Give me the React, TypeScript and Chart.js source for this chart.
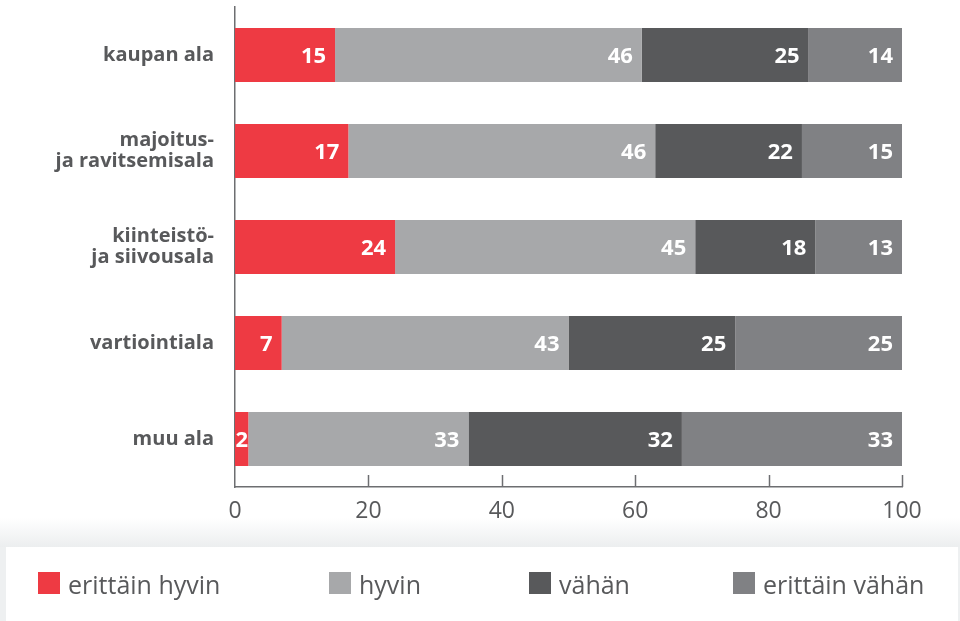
import { useEffect, useRef } from "react";
import { Chart, registerables } from "chart.js";
Chart.register(...registerables);

const categories: string[][] = [
  ["kaupan ala"],
  ["majoitus-", "ja ravitsemisala"],
  ["kiinteistö-", "ja siivousala"],
  ["vartiointiala"],
  ["muu ala"],
];
const seriesNames = ["erittäin hyvin", "hyvin", "vähän", "erittäin vähän"];
const erittainHyvin = [15, 17, 24, 7, 2];
const hyvin = [46, 46, 45, 43, 33];
const vahan = [25, 22, 18, 25, 32];
const erittainVahan = [14, 15, 13, 25, 33];
const xTickValues = [0, 20, 40, 60, 80, 100];

const seriesColors = ["#ee3a43", "#a7a8aa", "#58595b", "#808184"];
const textColor = "#58595b";
const axisColor = "#6d6e71";
const FONT = "'Open Sans', 'Noto Sans', sans-serif";

export default function App() {
  const ref = useRef<HTMLCanvasElement>(null);
  useEffect(() => {
    document.body.style.margin = "0";
    const canvas = ref.current!;
    const values = [erittainHyvin, hyvin, vahan, erittainVahan];

    const backgroundPlugin = {
      id: "bg",
      beforeDraw(chart: any) {
        const ctx = chart.ctx;
        ctx.save();
        const g = ctx.createLinearGradient(0, 518, 0, 547);
        g.addColorStop(0, "#ffffff");
        g.addColorStop(1, "#eceeef");
        ctx.fillStyle = g;
        ctx.fillRect(0, 518, 960, 103);
        ctx.fillStyle = "#eef0f1";
        ctx.fillRect(0, 547, 960, 74);
        ctx.fillStyle = "#ffffff";
        ctx.fillRect(6, 547, 952, 74);
        ctx.restore();
      },
    };

    const innerTicksPlugin = {
      id: "innerTicks",
      afterDraw(chart: any) {
        const ctx = chart.ctx;
        const xs = chart.scales.x;
        const bottom = chart.chartArea.bottom;
        ctx.save();
        ctx.strokeStyle = axisColor;
        ctx.lineWidth = 1.5;
        xTickValues.forEach((v) => {
          if (v === 0) return;
          const px = Math.round(xs.getPixelForValue(v)) + 0.5;
          ctx.beginPath();
          ctx.moveTo(px, bottom);
          ctx.lineTo(px, bottom - 12);
          ctx.stroke();
        });
        ctx.restore();
      },
    };

    const labelsPlugin = {
      id: "barLabels",
      afterDatasetsDraw(chart: any) {
        const ctx = chart.ctx;
        ctx.save();
        ctx.fillStyle = "#ffffff";
        ctx.font = `bold 22px ${FONT}`;
        ctx.textBaseline = "middle";
        chart.data.datasets.forEach((ds: any, di: number) => {
          const meta = chart.getDatasetMeta(di);
          meta.data.forEach((el: any, i: number) => {
            const v = ds.data[i];
            const start = Math.min(el.x, el.base);
            const end = Math.max(el.x, el.base);
            const w = end - start;
            const text = String(v);
            if (w < 30) {
              ctx.textAlign = "center";
              ctx.fillText(text, (start + end) / 2, el.y + 2);
            } else {
              ctx.textAlign = "right";
              ctx.fillText(text, end - 9, el.y + 2);
            }
          });
        });
        ctx.restore();
      },
    };

    const legendPlugin = {
      id: "customLegend",
      afterDraw(chart: any) {
        const ctx = chart.ctx;
        const xs = [38, 329, 529, 733];
        ctx.save();
        ctx.font = `25px ${FONT}`;
        ctx.textBaseline = "alphabetic";
        ctx.textAlign = "left";
        chart.data.datasets.forEach((ds: any, i: number) => {
          ctx.fillStyle = ds.backgroundColor;
          ctx.fillRect(xs[i], 572, 22, 22);
          ctx.fillStyle = textColor;
          ctx.fillText(ds.label, xs[i] + 30, 594);
        });
        ctx.restore();
      },
    };

    const chart = new Chart(canvas, {
      type: "bar",
      data: {
        labels: categories as any,
        datasets: values.map((d, i) => ({
          label: seriesNames[i],
          data: d,
          backgroundColor: seriesColors[i],
          borderWidth: 0,
          barPercentage: 0.5625,
          categoryPercentage: 1,
        })),
      },
      options: {
        indexAxis: "y",
        responsive: false,
        animation: false,
        events: [],
        layout: { padding: { top: 7, right: 58, bottom: 0, left: 0 } },
        plugins: { legend: { display: false }, tooltip: { enabled: false } },
        scales: {
          x: {
            stacked: true,
            min: 0,
            max: 100,
            grid: { display: false, drawTicks: false },
            border: { display: true, color: axisColor, width: 1.5 },
            ticks: {
              stepSize: 20,
              padding: 11,
              color: textColor,
              font: { family: FONT, size: 23 },
              callback: (v: any) => (xTickValues.includes(Number(v)) ? String(v) : ""),
            },
            afterFit: (s: any) => {
              s.height = 134;
              s.paddingLeft = 0;
            },
          },
          y: {
            stacked: true,
            grid: { display: false, drawTicks: false },
            border: { display: true, color: axisColor, width: 1.5 },
            ticks: {
              padding: 21,
              color: textColor,
              font: { family: FONT, size: 20, weight: "bold", lineHeight: 1.05 },
            },
            afterFit: (s: any) => {
              s.width = 235;
              s.paddingTop = 0;
              s.paddingBottom = 0;
            },
          },
        },
      },
      plugins: [backgroundPlugin, innerTicksPlugin, labelsPlugin, legendPlugin],
    });
    return () => chart.destroy();
  }, []);
  return (
    <div style={{ width: 960, height: 621, background: "#ffffff" }}>
      <canvas ref={ref} width={960} height={621} style={{ display: "block" }} />
    </div>
  );
}
